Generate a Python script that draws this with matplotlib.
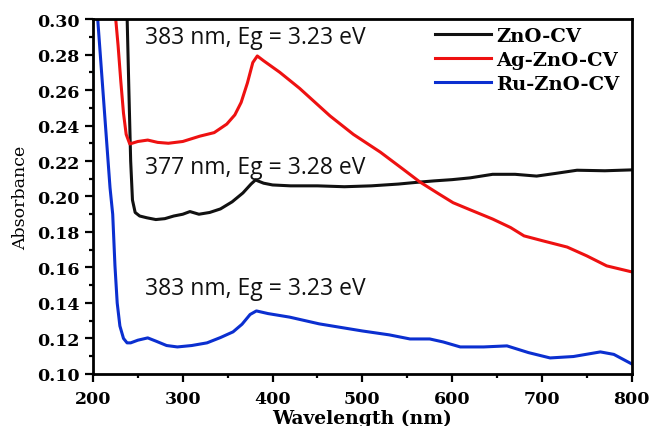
import matplotlib
matplotlib.use("Agg")
import matplotlib.pyplot as plt
from matplotlib.ticker import MultipleLocator

# UV-vis absorbance spectra
wl_zno = [238, 240, 242, 244, 247, 252, 260, 270, 280, 290, 300, 308, 318, 330, 342,
          355, 367, 376, 381, 390, 400, 420, 450, 480, 510, 540, 561, 580, 600, 620,
          645, 670, 694, 715, 739, 770, 800]
abs_zno = [0.302, 0.26, 0.22, 0.198, 0.191, 0.189, 0.188, 0.187, 0.1875, 0.189, 0.190,
           0.1915, 0.190, 0.191, 0.193, 0.197, 0.202, 0.207, 0.2093, 0.2075, 0.2065,
           0.206, 0.206, 0.2055, 0.206, 0.207, 0.208, 0.2088, 0.2095, 0.2105, 0.2125,
           0.2125, 0.2115, 0.213, 0.2148, 0.2145, 0.215]

wl_ag = [225, 228, 231, 234, 237, 241, 250, 261, 272, 284, 300, 319, 335, 349, 358,
         365, 372, 378, 383, 390, 408, 430, 464, 490, 520, 545, 564, 585, 601, 620,
         645, 665, 680, 701, 728, 750, 772, 800]
abs_ag = [0.302, 0.285, 0.265, 0.247, 0.235, 0.2296, 0.231, 0.2318, 0.2305, 0.230,
          0.231, 0.234, 0.236, 0.2408, 0.246, 0.253, 0.264, 0.2755, 0.2792, 0.2765,
          0.270, 0.261, 0.2454, 0.235, 0.225, 0.2155, 0.2082, 0.2015, 0.1965, 0.1925,
          0.1873, 0.1825, 0.1778, 0.175, 0.1715, 0.1665, 0.1609, 0.1575]

wl_ru = [205, 213, 219, 222, 224.5, 227, 230, 234, 238, 242, 250, 261, 270, 282, 294,
         310, 327, 342, 356, 366, 375, 382, 395, 419, 452, 500, 530, 553, 575, 590,
         609, 635, 661, 685, 709, 735, 765, 780, 800]
abs_ru = [0.302, 0.2465, 0.205, 0.19, 0.161, 0.14, 0.127, 0.12, 0.1175, 0.1175, 0.119,
          0.1203, 0.1185, 0.116, 0.1152, 0.116, 0.1175, 0.1205, 0.1237, 0.128, 0.1335,
          0.1355, 0.134, 0.132, 0.1282, 0.1242, 0.122, 0.1197, 0.1197, 0.118, 0.1152,
          0.1152, 0.1158, 0.112, 0.109, 0.1098, 0.1124, 0.111, 0.1056]

series_names = ["ZnO-CV", "Ag-ZnO-CV", "Ru-ZnO-CV"]
series_colors = ["#111111", "#ee1111", "#0b2fd0"]

notes = ["383 nm, Eg = 3.23 eV", "377 nm, Eg = 3.28 eV", "383 nm, Eg = 3.23 eV"]
note_y = [0.2865, 0.2132, 0.1451]

fig = plt.figure(figsize=(6.5, 4.27), dpi=100)
ax = fig.add_axes([0.143, 0.122, 0.829, 0.831])

for wl, ab, name, col in zip([wl_zno, wl_ag, wl_ru], [abs_zno, abs_ag, abs_ru],
                             series_names, series_colors):
    ax.plot(wl, ab, color=col, lw=2.2, label=name)

for txt, yy in zip(notes, note_y):
    ax.text(258, yy, txt, fontsize=16.5, family="Open Sans", va="baseline", color="#111111")

ax.set_xlim(200, 800)
ax.set_ylim(0.10, 0.30)
ax.xaxis.set_major_locator(MultipleLocator(100))
ax.xaxis.set_minor_locator(MultipleLocator(50))
ax.yaxis.set_major_locator(MultipleLocator(0.02))
ax.yaxis.set_minor_locator(MultipleLocator(0.01))
ax.yaxis.set_major_formatter(plt.FormatStrFormatter("%.2f"))

ax.tick_params(which="both", direction="out", top=False, right=False, width=1.6)
ax.tick_params(which="major", length=5.5)
ax.tick_params(which="minor", length=3)
ax.tick_params(axis="x", pad=6)
ax.tick_params(axis="y", pad=4)
for lab in ax.get_xticklabels() + ax.get_yticklabels():
    lab.set_family("DejaVu Serif")
    lab.set_fontweight("bold")
    lab.set_fontsize(12.5)

for sp in ax.spines.values():
    sp.set_linewidth(2)

ax.set_xlabel("Wavelength (nm)", family="DejaVu Serif", fontweight="bold",
              fontsize=13.5, labelpad=1)
ax.set_ylabel("Absorbance", family="DejaVu Serif", fontsize=12.5, labelpad=6)

ax.legend(loc="upper left", bbox_to_anchor=(0.634, 0.978), frameon=False,
          borderaxespad=0, borderpad=0, handlelength=2.9, handletextpad=0.25,
          labelspacing=0.3, prop={"family": "DejaVu Serif", "size": 14, "weight": "bold"})

fig.savefig("out.png", dpi=100)
